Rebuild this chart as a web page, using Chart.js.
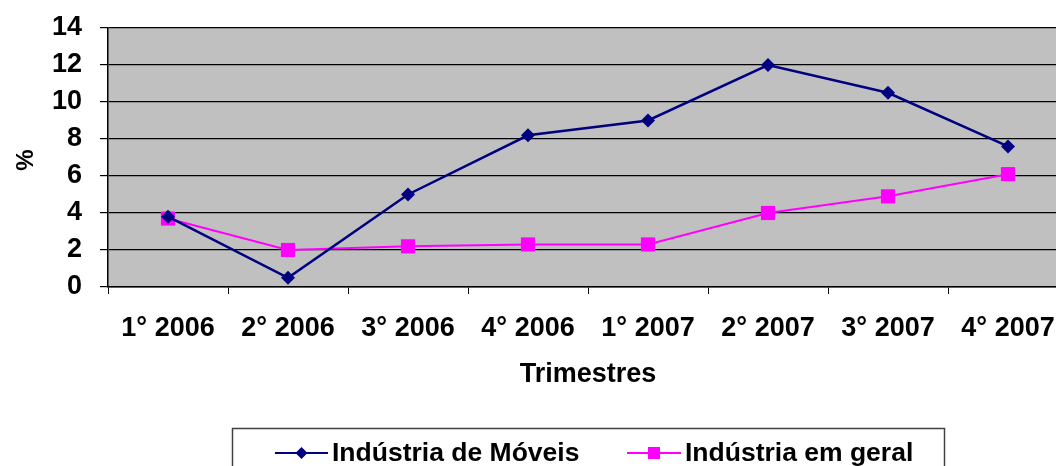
<!DOCTYPE html>
<html><head><meta charset="utf-8">
<script src="https://cdn.jsdelivr.net/npm/chart.js@4"></script>
<style>html,body{margin:0;padding:0;overflow:hidden;background:#fff;width:1056px;height:466px}
#wrap{position:absolute;left:0;top:0;width:1080px;height:466px}</style>
</head><body>
<div id="wrap"><canvas id="c" width="1080" height="466"></canvas></div>
<script>
const categories = ["1° 2006","2° 2006","3° 2006","4° 2006","1° 2007","2° 2007","3° 2007","4° 2007"];
const moveis = [3.8, 0.5, 5.0, 8.2, 9.0, 12.0, 10.5, 7.6];
const geral = [3.7, 2.0, 2.2, 2.3, 2.3, 4.0, 4.9, 6.1];
const yTicks = [0,2,4,6,8,10,12,14];
const seriesNames = ["Indústria de Móveis","Indústria em geral"];
const FONT = "'Liberation Sans', Arial, sans-serif";

const bgPlugin = {
  id:'bg',
  beforeDraw(chart){
    const {ctx, chartArea:a} = chart;
    ctx.save(); ctx.fillStyle='#C0C0C0';
    ctx.fillRect(a.left,a.top,a.right-a.left,a.bottom-a.top);
    ctx.restore();
  },
  afterDraw(chart){
    const ctx = chart.ctx;
    // y title
    ctx.save();
    ctx.font = "bold 24px " + FONT;
    ctx.fillStyle='#000'; ctx.textAlign='center'; ctx.textBaseline='middle';
    ctx.translate(26,160); ctx.rotate(-Math.PI/2); ctx.fillText('%',0,0);
    ctx.restore();
    // legend
    ctx.save();
    ctx.strokeStyle='#404040'; ctx.lineWidth=1.5;
    ctx.strokeRect(232.5,428.5,712,60);
    ctx.font = "bold 26.5px " + FONT; ctx.textBaseline='middle'; ctx.fillStyle='#000';
    const items = [{x0:275,x1:328,tx:332,ds:chart.data.datasets[0]},{x0:627,x1:681,tx:685,ds:chart.data.datasets[1]}];
    const y=453;
    items.forEach(it=>{
      ctx.strokeStyle=it.ds.borderColor; ctx.lineWidth=2;
      ctx.beginPath(); ctx.moveTo(it.x0,y); ctx.lineTo(it.x1,y); ctx.stroke();
      const cx=(it.x0+it.x1)/2;
      ctx.fillStyle=it.ds.borderColor;
      if(it.ds.pointStyle==='rectRot'){
        ctx.beginPath(); ctx.moveTo(cx,y-6); ctx.lineTo(cx+6,y); ctx.lineTo(cx,y+6); ctx.lineTo(cx-6,y); ctx.closePath(); ctx.fill();
      } else { ctx.fillRect(cx-6,y-6,12,12); }
      ctx.fillStyle='#000'; ctx.fillText(it.ds.label,it.tx,y+1);
    });
    ctx.restore();
  }
};

new Chart(document.getElementById('c'),{
  type:'line',
  data:{labels:categories,datasets:[
    {label:seriesNames[0],data:moveis,borderColor:'#000080',backgroundColor:'#000080',borderWidth:2.5,pointStyle:'rectRot',pointRadius:7,pointHoverRadius:7,pointBorderWidth:0,tension:0},
    {label:seriesNames[1],data:geral,borderColor:'#FF00FF',backgroundColor:'#FF00FF',borderWidth:2,pointStyle:'rect',pointRadius:10,pointHoverRadius:10,pointBorderWidth:0,tension:0}
  ]},
  options:{
    responsive:false,animation:false,
    layout:{padding:{left:0,top:28,right:12,bottom:70}},
    plugins:{legend:{display:false},tooltip:{enabled:false}},
    scales:{
      x:{offset:true,
        grid:{offset:true,drawOnChartArea:false,drawTicks:true,tickLength:7,color:'#000',tickColor:'#000'},
        border:{display:true,color:'#000',width:1.5},
        ticks:{color:'#000',font:{family:FONT,size:27,weight:'bold'},padding:18,maxRotation:0,autoSkip:false},
        title:{display:true,text:'Trimestres',color:'#000',font:{family:FONT,size:27,weight:'bold'},padding:{top:4,bottom:5}},
        afterFit(s){s.height=109;s.paddingLeft=0;s.paddingRight=0;}
      },
      y:{min:0,max:14,
        afterBuildTicks(s){s.ticks=yTicks.map(v=>({value:v}));},
        grid:{color:'#000',tickColor:'#000',tickLength:8,lineWidth:1.2},
        border:{display:true,color:'#000',width:1.5},
        ticks:{color:'#000',font:{family:FONT,size:27,weight:'bold'},padding:18},
        afterFit(s){s.width=108;s.paddingTop=0;s.paddingBottom=0;}
      }
    }
  },
  plugins:[bgPlugin]
});
</script>
</body></html>
